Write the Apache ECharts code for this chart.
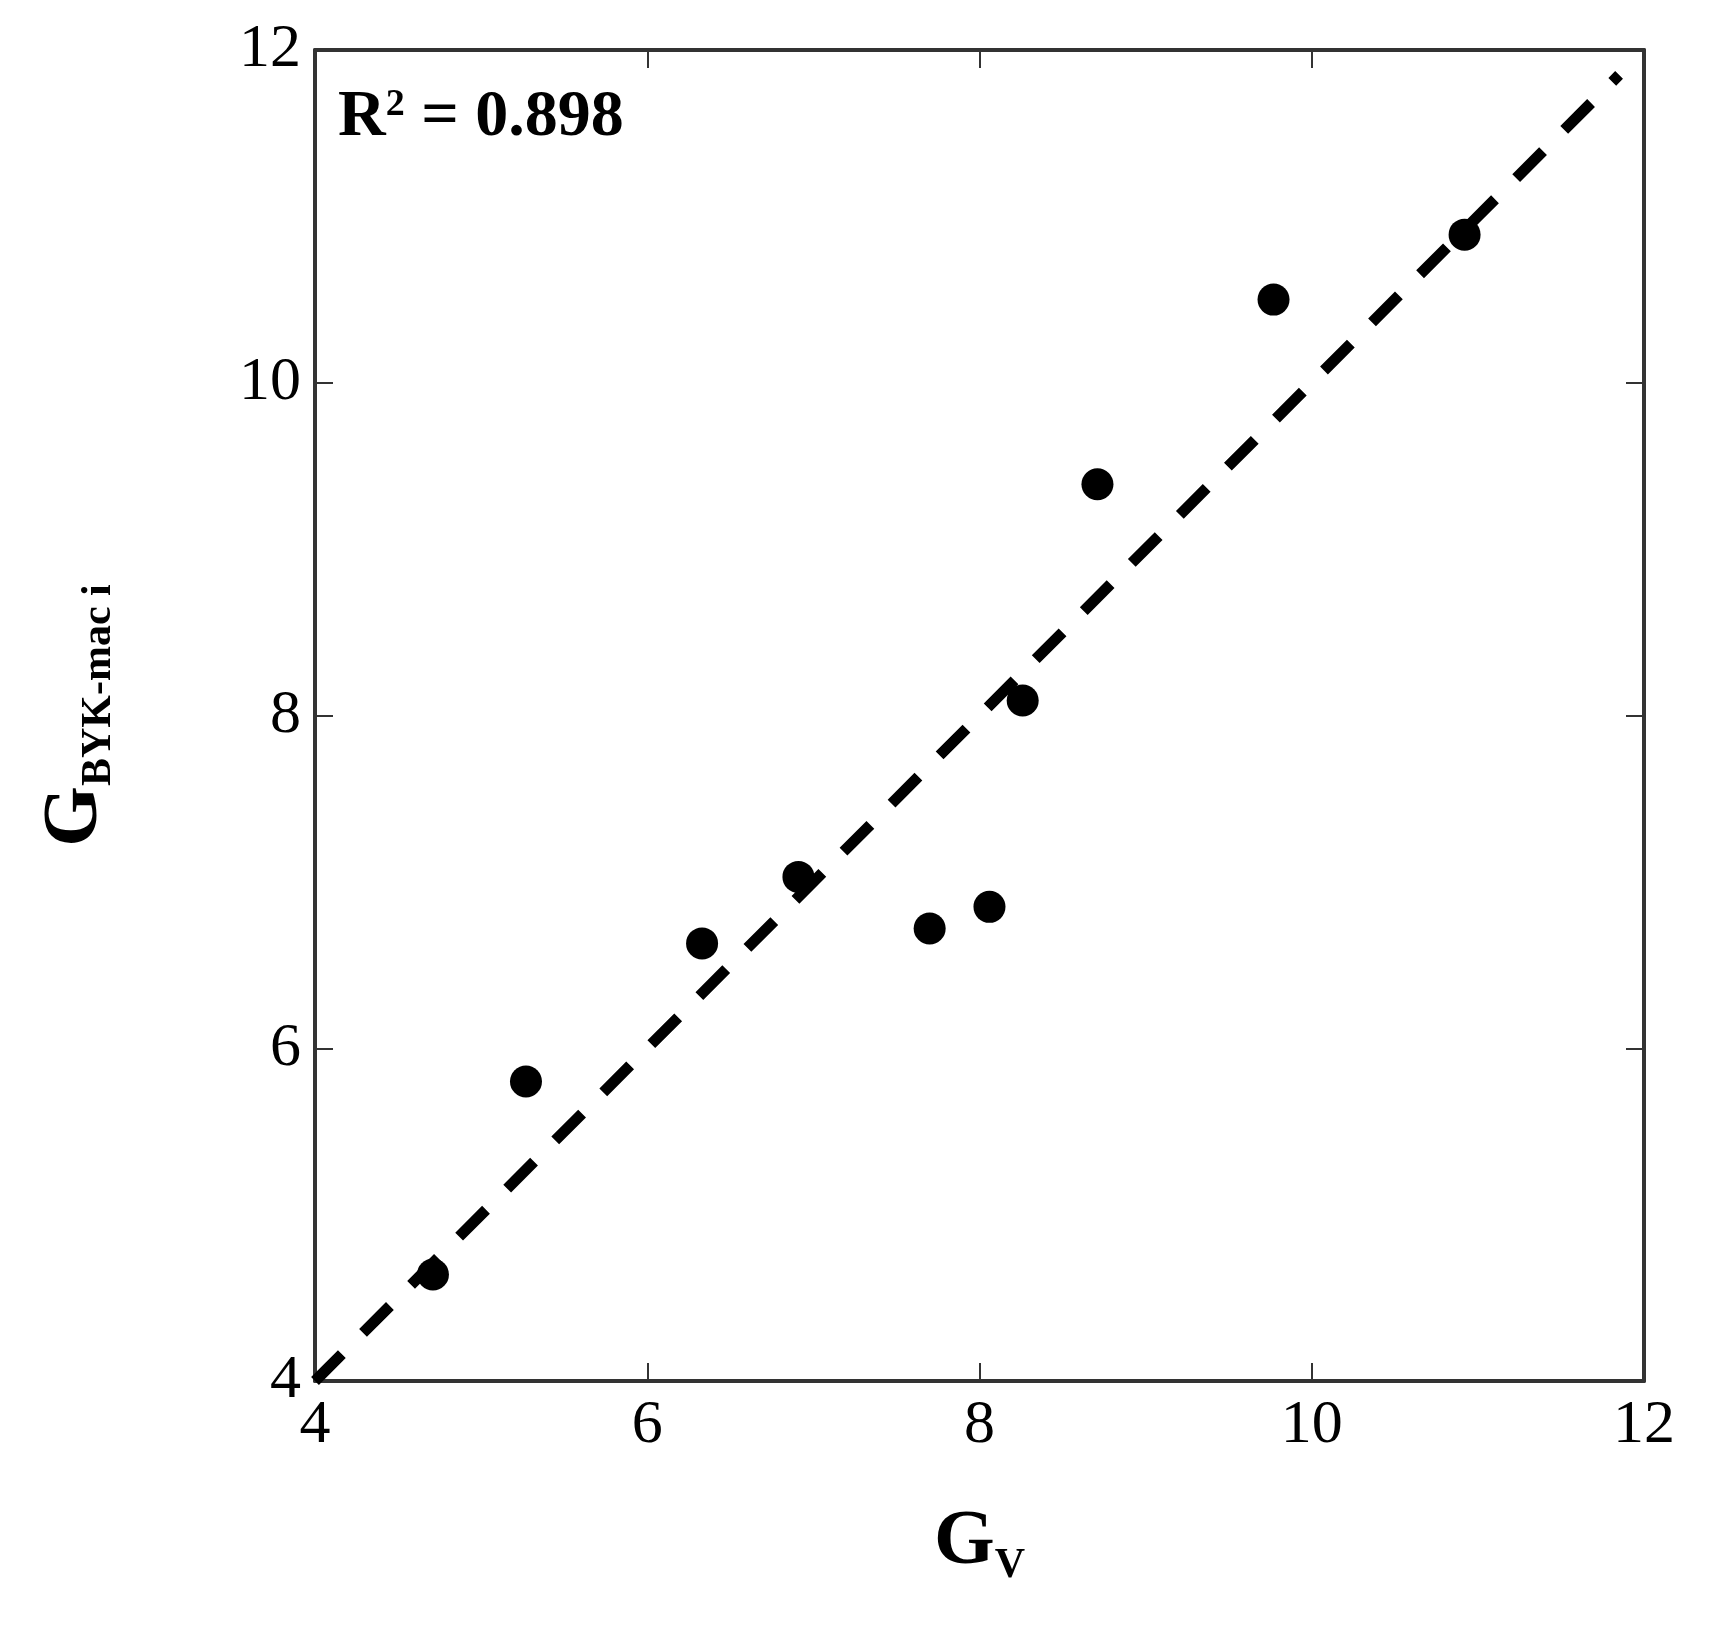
<!DOCTYPE html><html><head><meta charset="utf-8"><script src="https://cdn.jsdelivr.net/npm/echarts@6/dist/echarts.min.js"></script>
<style>html,body{margin:0;background:#fff}#c{width:1722px;height:1633px}</style></head><body><div id="c"></div><script>
const gv=[4.71,5.27,6.33,6.91,7.70,8.06,8.26,8.71,9.77,10.92];
const gbyk=[4.64,5.80,6.63,7.03,6.72,6.85,8.09,9.39,10.50,10.89];
const fitLine=[[4,4],[11.85,11.85]];
const ticks=[4,6,8,10,12];
const F='Liberation Serif';
const ch=echarts.init(document.getElementById('c'));
const ax=(pos,show)=>({type:'value',min:4,max:12,interval:2,position:pos,
 axisLine:{show:true,lineStyle:{color:'#333',width:4}},
 axisTick:{show:true,inside:true,length:18,lineStyle:{color:'#333',width:2}},
 splitLine:{show:false},
 axisLabel:{show:show,fontFamily:F,fontSize:62,color:'#000',margin:14}});
ch.setOption({animation:false,
grid:{left:315,right:78,top:50,bottom:252},
xAxis:[Object.assign(ax('bottom',true),{name:'{m|G}{s|V}',nameLocation:'middle',nameGap:118,nameTextStyle:{rich:{m:{fontFamily:F,fontSize:78,fontWeight:'bold',color:'#000'},s:{fontFamily:F,fontSize:42,fontWeight:'bold',color:'#000',padding:[46,0,0,0]}}}}),ax('top',false)],
yAxis:[Object.assign(ax('left',true),{name:'{m|G}{s|BYK-mac i}',nameLocation:'middle',nameGap:195,nameTextStyle:{rich:{m:{fontFamily:F,fontSize:78,fontWeight:'bold',color:'#000'},s:{fontFamily:F,fontSize:42,fontWeight:'bold',color:'#000',padding:[46,0,0,0]}}}}),ax('right',false)],
graphic:[{type:'text',left:338,top:85,style:{text:'{a|R}{b|2}{a| = 0.898}',rich:{a:{fontFamily:F,fontSize:66,fontWeight:'bold',fill:'#000'},b:{fontFamily:F,fontSize:38,fontWeight:'bold',fill:'#000',padding:[0,0,26,0]}}}}],
series:[{type:'line',data:fitLine,symbol:'none',lineStyle:{color:'#000',width:11,type:[38,30]},z:1},
{type:'scatter',data:gv.map((x,i)=>[x,gbyk[i]]),symbolSize:32,itemStyle:{color:'#000',opacity:1},z:2}]});
</script></body></html>
